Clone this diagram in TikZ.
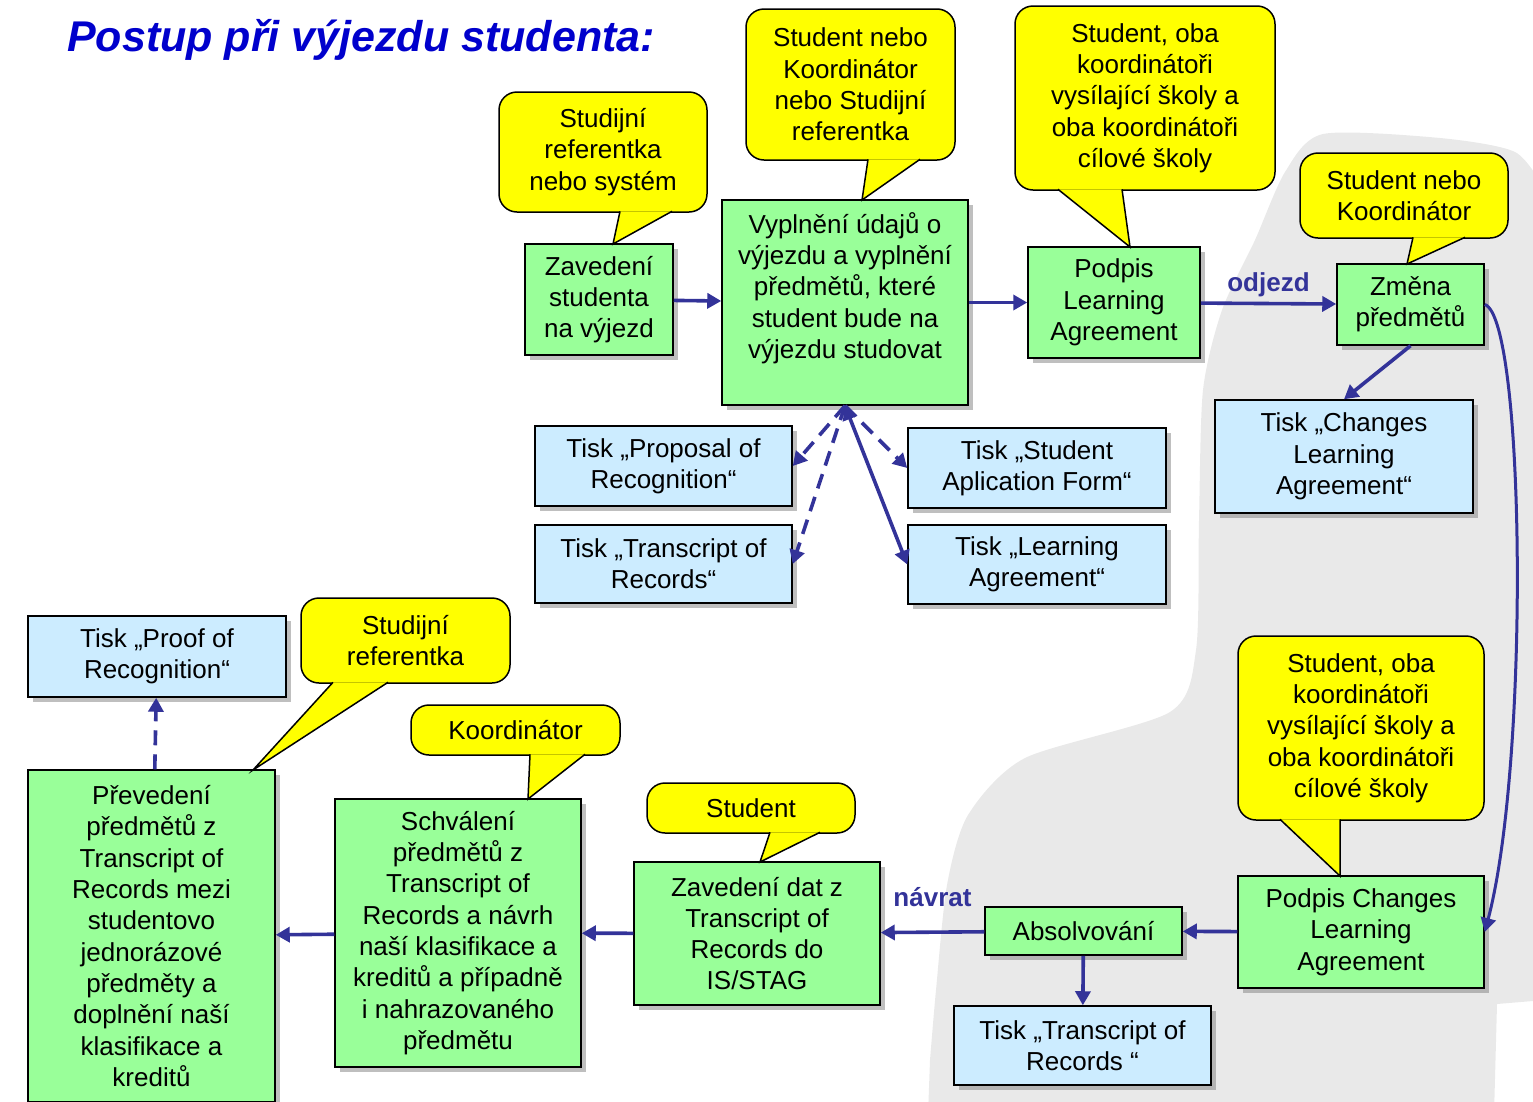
\documentclass[tikz,border=0pt]{standalone}
\usepackage{fontspec}
\setmainfont{Liberation Sans}
\usetikzlibrary{arrows.meta, shadows}

\definecolor{boxgreen}{HTML}{99FF99}
\definecolor{boxblue}{HTML}{CCECFF}
\definecolor{bubbleyellow}{HTML}{FFFF00}
\definecolor{flowblue}{HTML}{333399}
\definecolor{titleblue}{HTML}{0000CC}
\definecolor{abroadgray}{HTML}{E9E9E9}

\tikzset{
  task/.style={draw=black, line width=1.5pt, fill=boxgreen, align=center, inner sep=0pt,
    drop shadow={shadow xshift=5pt, shadow yshift=-5pt}},
  print/.style={task, fill=boxblue},
  bubble/.style={draw=black, line width=1.5pt, fill=bubbleyellow, rounded corners=18pt,
    align=center, inner sep=0pt},
  tail/.style={draw=black, line width=1.5pt, fill=bubbleyellow, line join=miter},
  flow/.style={draw=flowblue, line width=3.6pt, ->},
  dashflow/.style={flow, dash pattern=on 15pt off 9pt},
  tag/.style={text=flowblue, font=\fontsize{26}{30}\selectfont\bfseries}
}

\begin{document}
\begin{tikzpicture}[x=1pt, y=-1pt, >={Triangle[length=14pt,width=15pt]},
    every node/.style={font=\fontsize{26}{31.3}\selectfont}]
  \useasboundingbox (0,0) rectangle (1533,1101);

  % stay abroad area
  \fill[abroadgray] (1545,1000) -- (1497,1004) -- (1494,1115) -- (928,1115)
    -- plot[smooth, tension=0.45] coordinates {
    (930,1060) (936,990) (947,885) (968,815) (1025,758) (1170,712)
    (1196,650) (1199,520) (1203,390) (1222,310) (1255,240) (1285,172)
    (1323,134) (1440,138) (1515,152) (1545,190)} -- cycle;

  % title
  \node[anchor=base west, inner sep=0pt, text=titleblue,
    font=\fontsize{43}{50}\selectfont\bfseries\itshape] (title) at (67,51)
    {Postup při výjezdu studenta:};

  % before departure
  \node[task, minimum width=148, minimum height=111] (zav) at (599,299.5) {Zavedení\\studenta\\na výjezd};
  \node[task, minimum width=246, minimum height=205] (vyp) at (845,302.5)
    {Vyplnění údajů o\\výjezdu a vyplnění\\předmětů, které\\student bude na\\výjezdu studovat\\[3pt]\mbox{}};
  \node[task, minimum width=172, minimum height=111] (podpis) at (1114,302.5) {Podpis\\Learning\\Agreement};
  \node[print, minimum width=257, minimum height=80] (proposal) at (663.5,466) {Tisk „Proposal of\\Recognition“};
  \node[print, minimum width=257, minimum height=78] (transcript) at (663.5,564) {Tisk „Transcript of\\Records“};
  \node[print, minimum width=258, minimum height=80] (application) at (1037,468) {Tisk „Student\\Aplication Form“};
  \node[print, minimum width=258, minimum height=79] (learning) at (1037,564.5) {Tisk „Learning\\Agreement“};

  % abroad
  \node[task, minimum width=147, minimum height=81] (zmena) at (1410.5,304.5) {Změna\\předmětů};
  \node[print, minimum width=258, minimum height=113] (changes) at (1344,456.5) {Tisk „Changes\\Learning\\Agreement“};
  \node[task, minimum width=246, minimum height=112] (podpisch) at (1361,932) {Podpis Changes\\Learning\\Agreement};
  \node[task, minimum width=197, minimum height=48] (absolv) at (1083.5,931) {Absolvování};
  \node[print, minimum width=257, minimum height=79] (transcriptback) at (1082.5,1045.5) {Tisk „Transcript of\\Records “};

  % after return
  \node[task, minimum width=246, minimum height=143] (zavdat) at (757,933.5) {Zavedení dat z\\Transcript of\\Records do\\IS/STAG};
  \node[task, minimum width=246, minimum height=268] (schval) at (458,933)
    {Schválení\\předmětů z\\Transcript of\\Records a návrh\\naší klasifikace a\\kreditů a případně\\i nahrazovaného\\předmětu};
  \node[task, minimum width=247, minimum height=332] (preved) at (151.5,936)
    {Převedení\\předmětů z\\Transcript of\\Records mezi\\studentovo\\jednorázové\\předměty a\\doplnění naší\\klasifikace a\\kreditů};
  \node[print, minimum width=258, minimum height=81] (proof) at (157,656.5) {Tisk „Proof of\\Recognition“};

  % connectors
  \draw[flow] (zav) -- (vyp);
  \draw[flow] (vyp) -- (podpis);
  \draw[flow] (podpis) -- node[tag, above=2pt] {odjezd} (zmena);
  \draw[flow] (zmena.south) -- (changes.north);
  \draw[flow, line width=3pt] (zmena.east) .. controls (1525,318) and (1530,760) .. (podpisch.east);
  \draw[dashflow] (vyp.south) -- (proposal.east);
  \draw[dashflow] (vyp.south) -- (transcript.east);
  \draw[dashflow] (vyp.south) -- (application.west);
  \draw[flow, <->] (vyp.south) -- (learning.west);
  \draw[flow] (podpisch) -- (absolv);
  \draw[flow] (absolv) -- node[tag, above=20pt] {návrat} (zavdat);
  \draw[flow] (absolv) -- (transcriptback);
  \draw[flow] (zavdat) -- (schval);
  \draw[flow] (schval) -- (preved);
  \draw[dashflow] (preved) -- (proof);

  % who does it
  \node[bubble, minimum width=208, minimum height=120] (whoenrol) at (603,152) {Studijní\\referentka\\nebo systém};
  \filldraw[tail] (620,211.3) -- (613,244) -- (672,211.3);
  \node[bubble, minimum width=209, minimum height=151] (whofill) at (850.5,84.5) {Student nebo\\Koordinátor\\nebo Studijní\\referentka};
  \filldraw[tail] (868,159.3) -- (862,200) -- (920,159.3);
  \node[bubble, minimum width=260, minimum height=184] (whosign) at (1145,98) {Student, oba\\koordinátoři\\vysílající školy a\\oba koordinátoři\\cílové školy};
  \filldraw[tail] (1058,189.3) -- (1130,247) -- (1122,189.3);
  \node[bubble, minimum width=208, minimum height=85] (whochange) at (1404,195.5) {Student nebo\\Koordinátor};
  \filldraw[tail] (1413,237.3) -- (1407,264) -- (1465,237.3);
  \node[bubble, minimum width=246, minimum height=184] (whosignch) at (1361,728) {Student, oba\\koordinátoři\\vysílající školy a\\oba koordinátoři\\cílové školy};
  \filldraw[tail] (1280,819.3) -- (1340,876) -- (1340,819.3);
  \node[bubble, minimum width=208, minimum height=50] (whoenter) at (751,808) {Student};
  \filldraw[tail] (770,832.3) -- (760,862) -- (820,832.3);
  \node[bubble, minimum width=209, minimum height=50] (whoapprove) at (515.5,730) {Koordinátor};
  \filldraw[tail] (530,754.3) -- (528,799) -- (585,754.3);
  \node[bubble, minimum width=209, minimum height=85] (whotransfer) at (405.5,640.5) {Studijní\\referentka};
  \filldraw[tail] (333,682.3) -- (253,770) -- (388,682.3);
\end{tikzpicture}
\end{document}
